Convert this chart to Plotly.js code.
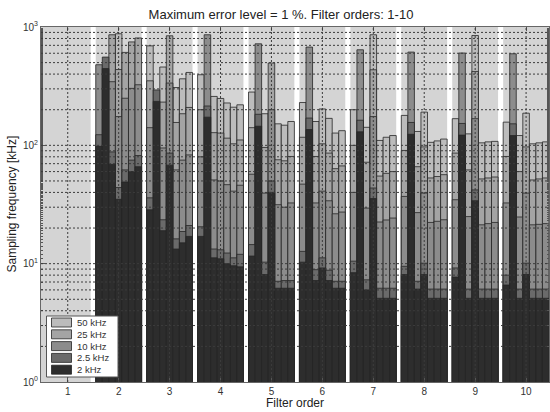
<!DOCTYPE html>
<html>
<head>
<meta charset="utf-8">
<script src="https://cdn.plot.ly/plotly-3.0.1.min.js"></script>
<style>html,body{margin:0;padding:0;background:#fff;}#chart{width:550px;height:412px;}</style>
</head>
<body>
<div id="chart"></div>
<script>
// Filter orders (x categories)
const orders = [1, 2, 3, 4, 5, 6, 7, 8, 9, 10];
const orderLabels = ['1', '2', '3', '4', '5', '6', '7', '8', '9', '10'];
// Signal frequency levels, drawn from tallest (back) to shortest (front)
const levelNames = ['50 kHz', '25 kHz', '10 kHz', '2.5 kHz', '2 kHz'];
const yTickVals = [1, 10, 100, 1000];
const yTickText = ['10<sup>0</sup>', '10<sup>1</sup>', '10<sup>2</sup>', '10<sup>3</sup>'];
const N = null;
// Sampling frequency [kHz]; rows = filter order 1..10, columns = 7 filter variants
const f50 = [
  [N, N, N, N, N, N, N],
  [N, N, N, 877, N, N, N],
  [693, N, 459, N, 308, 365, 413],
  [395, N, 259, 249, 228, 210, 220],
  [282, N, 185, N, 152, 148, 159],
  [230, N, 159, 203, 169, 127, 133],
  [200, N, 142, 860, 110, 117, 121],
  [179, N, 131, 191, 106, 109, 113],
  [168, N, 125, 848, 105, 107, 108],
  [157, N, 121, 187, 103, 105, 107]
];
const f25 = [
  [N, N, N, N, N, N, N],
  [N, N, 860, 437, 610, 748, 808],
  [351, N, 232, 843, 156, 185, 209],
  [200, N, 128, 127, 115, 103, 111],
  [141, N, 96, 496, 75.5, 74, 80.5],
  [117, N, 80.5, 103, 86, 63.5, 67],
  [100, N, 72, 435, 55, 58, 60],
  [90.5, N, 66, 97, 53, 54.5, 56.5],
  [86, N, 62, 421, 52, 53, 54],
  [80.5, N, 60, 97, 51, 52, 53]
];
const f10 = [
  [N, N, N, N, N, N, N],
  [480, N, 345, 175, 250, 303, 325],
  [141, N, 95, 336, 62, 75, 83],
  [80, 860, 51, 50, 46.5, 41, 46],
  [57, 721, 39.5, 200, 31.5, 30, 32.6],
  [47, 677, 32.6, 41, 34, 26.4, 27.3],
  [40, 642, 29.5, 175, 22.5, 23.4, 24.3],
  [37, 614, 27, 39.5, 22.3, 22.8, 23.5],
  [34.7, 603, 25, 168, 21.3, 21.8, 22.3],
  [32.6, 594, 24.8, 39.5, 21.3, 21.5, 21.8]
];
const f2_5 = [
  [N, N, N, N, N, N, N],
  [123, 557, 88, 44, 62, 75, 82],
  [36, 294, 23.5, 86, 16.2, 18.7, 21],
  [20.5, 215, 13.3, 13.1, 12.3, 11.2, 12],
  [14.5, 183, 10.3, 50, 7.1, 7.2, 7.2],
  [12.7, 170, 8.9, 11.2, 8.8, 7.1, 7.1],
  [10.5, 163, 7.3, 43.6, 6.2, 6.2, 6.2],
  [9.5, 156, 7.1, 10.1, 6.1, 6.1, 6.1],
  [9.2, 153, 6.1, 42, 6.1, 6.1, 6.1],
  [8.0, 152, 6.1, 10.1, 6.1, 6.1, 6.1]
];
const f2 = [
  [N, N, N, N, N, N, N],
  [98, 445, 69, 35, 49, 60, 66],
  [28.5, 235, 19, 68, 13.3, 15, 17],
  [17, 173, 11.2, 11, 10, 9.6, 9.4],
  [11.6, 145, 8.1, 40, 6.2, 6.2, 6.2],
  [10.3, 136, 7.2, 9.2, 7.2, 6.2, 6.2],
  [8.4, 130, 6.0, 35.5, 5.1, 5.1, 5.1],
  [8.1, 124, 6.1, 8.1, 5.1, 5.1, 5.1],
  [7.7, 122, 5.1, 34, 5.1, 5.1, 5.1],
  [6.6, 121, 5.1, 8.1, 5.1, 5.1, 5.1]
];

const levelData = [f50, f25, f10, f2_5, f2];
const levelColors = ['#bcbcbc', '#a4a4a4', '#8c8c8c', '#6a6a6a', '#2d2d2d'];
const FONT = 'Liberation Sans, Arial, Helvetica, sans-serif';

const nVar = 7;
const groupW = 0.9;
const barW = groupW / nVar;

const traces = [];
levelData.forEach((tbl, li) => {
  for (let j = 0; j < nVar; j++) {
    traces.push({
      type: 'bar',
      x: orders,
      y: tbl.map(row => row[j]),
      offset: -groupW / 2 + j * barW,
      width: barW,
      marker: {color: levelColors[li], line: {color: '#262626', width: 0.8}},
      showlegend: false,
      hoverinfo: 'skip'
    });
  }
});

// plot-area geometry in px (for legend placement)
const W = 550, H = 412;
const M = {l: 41, r: 1, t: 27, b: 30};
const pw = W - M.l - M.r, ph = H - M.t - M.b;
const px2x = p => (p - M.l) / pw;
const px2y = p => (H - M.b - p) / ph;

const shapes = [];
// white separators between groups
for (let k = 1; k < orders.length; k++) {
  shapes.push({type: 'rect', xref: 'x', yref: 'paper', x0: orders[k - 1] + groupW / 2, x1: orders[k] - groupW / 2,
    y0: 0, y1: 1, fillcolor: '#ffffff', line: {width: 0}, layer: 'below'});
}
// dotted grid above bars
const gridStyle = {color: '#3c3c3c', width: 1, dash: '2px,2px'};
for (let d = 0; d < 3; d++) {
  for (let m = 1; m <= 9; m++) {
    const v = m * Math.pow(10, d);
    if (v === 1) continue;
    shapes.push({type: 'line', xref: 'paper', yref: 'y', x0: 0, x1: 1, y0: v, y1: v, line: gridStyle, layer: 'above'});
  }
}
orders.forEach(o => {
  shapes.push({type: 'line', xref: 'x', yref: 'paper', x0: o, x1: o, y0: 0, y1: 1, line: gridStyle, layer: 'above'});
});

// manual legend
const annotations = [];
const legBox = {x0: 46.5, x1: 118, y0: 316, y1: 377};
shapes.push({type: 'rect', xref: 'paper', yref: 'paper', x0: px2x(legBox.x0), x1: px2x(legBox.x1),
  y0: px2y(legBox.y1), y1: px2y(legBox.y0), fillcolor: '#ffffff', line: {color: '#555', width: 1}, layer: 'above'});
levelNames.forEach((name, i) => {
  const cy = 322.5 + i * 11.8;
  shapes.push({type: 'rect', xref: 'paper', yref: 'paper', x0: px2x(51.5), x1: px2x(71.5),
    y0: px2y(cy + 4.5), y1: px2y(cy - 4.5), fillcolor: levelColors[i], line: {color: '#262626', width: 0.8}, layer: 'above'});
  annotations.push({xref: 'paper', yref: 'paper', x: px2x(75), y: px2y(cy), xanchor: 'left', yanchor: 'middle',
    text: name, showarrow: false, font: {family: FONT, size: 9.5, color: '#333'}});
});

// axis titles
annotations.push({xref: 'paper', yref: 'paper', x: 0.5, y: px2y(403), xanchor: 'center', yanchor: 'middle',
  text: 'Filter order', showarrow: false, font: {family: FONT, size: 12, color: '#222'}});
annotations.push({xref: 'paper', yref: 'paper', x: px2x(11), y: 0.5, xanchor: 'center', yanchor: 'middle',
  textangle: -90, text: 'Sampling frequency [kHz]', showarrow: false, font: {family: FONT, size: 12, color: '#222'}});

const layout = {
  width: W, height: H,
  margin: M,
  paper_bgcolor: '#ffffff',
  plot_bgcolor: '#d4d4d4',
  barmode: 'overlay',
  bargap: 0,
  font: {family: FONT, color: '#333'},
  title: {text: 'Maximum error level = 1 %. Filter orders: 1-10', x: 281 / W, xref: 'container', xanchor: 'center',
    y: 1 - 14 / H, yref: 'container', yanchor: 'middle', font: {family: FONT, size: 13, color: '#222'}},
  xaxis: {range: [0.475, 10.45], tickvals: orders, ticktext: orderLabels, ticks: 'inside', ticklen: 4,
    tickcolor: '#555', showline: true, linecolor: '#666', linewidth: 1, mirror: 'ticks', showgrid: false,
    zeroline: false, tickfont: {family: FONT, size: 10, color: '#333'}},
  yaxis: {type: 'log', range: [0, 3], tickvals: yTickVals, ticktext: yTickText, ticks: 'inside', ticklen: 4,
    tickcolor: '#555', showline: true, linecolor: '#666', linewidth: 1, mirror: 'ticks', showgrid: false,
    zeroline: false, tickfont: {family: FONT, size: 10, color: '#333'},
    minor: {ticks: 'inside', ticklen: 2, tickcolor: '#555', showgrid: false}},
  shapes: shapes,
  annotations: annotations
};

Plotly.newPlot('chart', traces, layout, {staticPlot: true, displayModeBar: false});
</script>
</body>
</html>
